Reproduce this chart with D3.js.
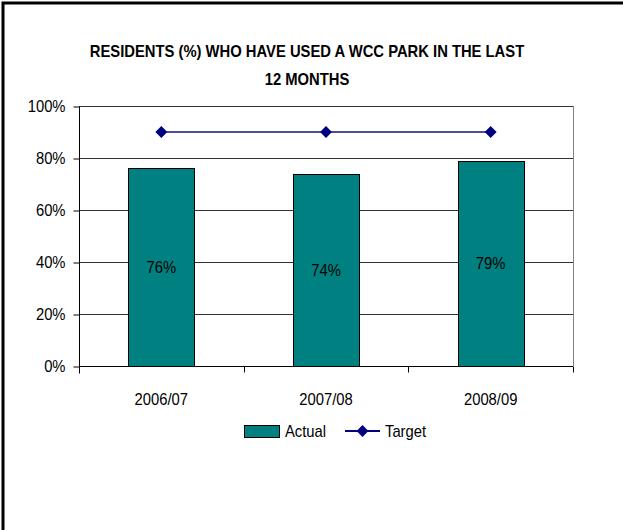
<!DOCTYPE html>
<html>
<head>
<meta charset="utf-8">
<script src="https://cdn.jsdelivr.net/npm/d3@7"></script>
<style>
  html, body { margin: 0; padding: 0; background: #fff; }
  svg { display: block; }
  text { font-family: "Liberation Sans", Arial, sans-serif; fill: #000; }
</style>
</head>
<body>
<svg id="chart" width="623" height="530"></svg>
<script>
// Survey results by year
const years = ["2006/07", "2007/08", "2008/09"];
const actual = [76, 74, 79];
const target = [90, 90, 90];
const yTicks = [0, 20, 40, 60, 80, 100];
const titleLines = ["RESIDENTS (%) WHO HAVE USED A WCC PARK IN THE LAST", "12 MONTHS"];
const legendLabels = ["Actual", "Target"];

const svg = d3.select("#chart");
const W = 623, H = 530;
const plot = { left: 79, right: 573, top: 106, bottom: 366 };
const NARROW = 0.87;   // horizontal squeeze for a condensed look
const FS = 17;

const barColor = "#008080";
const lineColor = "#4d4d9f";
const markerColor = "#000080";

// condensed text helper: x is given in screen units
function narrowText(sel, xPos) {
  return sel.attr("transform", `scale(${NARROW},1)`)
    .attr("x", typeof xPos === "function" ? (d, i) => xPos(d, i) / NARROW : xPos / NARROW);
}

// outer frame (left and top edges)
svg.append("path")
  .attr("d", `M3,${H} V3 H${W}`)
  .attr("fill", "none").attr("stroke", "#000").attr("stroke-width", 3);

// title
svg.append("g").selectAll("text").data(titleLines).join("text")
  .attr("y", (d, i) => 57 + i * 28)
  .attr("text-anchor", "middle")
  .attr("font-size", FS).attr("font-weight", "bold")
  .call(narrowText, 307)
  .text(d => d);

const x = d3.scaleBand().domain(years).range([plot.left, plot.right]).paddingInner(0).paddingOuter(0);
const y = d3.scaleLinear().domain([0, 100]).range([plot.bottom, plot.top]);
const barW = x.bandwidth() * 0.4;
const cx = d => x(d) + x.bandwidth() / 2;

// horizontal gridlines
svg.append("g").selectAll("line").data(yTicks.filter(d => d > 0)).join("line")
  .attr("x1", plot.left).attr("x2", plot.right)
  .attr("y1", d => Math.round(y(d)) + 0.5).attr("y2", d => Math.round(y(d)) + 0.5)
  .attr("stroke", "#333").attr("stroke-width", 1);

// right edge of plot area
svg.append("line")
  .attr("x1", plot.right + 0.5).attr("x2", plot.right + 0.5)
  .attr("y1", plot.top).attr("y2", plot.bottom)
  .attr("stroke", "#808080");

// y axis
const yAxis = d3.axisLeft(y).tickValues(yTicks).tickFormat(d => d + "%").tickSize(6).tickPadding(8);
const gy = svg.append("g").attr("transform", `translate(${plot.left + 0.5},0.5)`).call(yAxis);
gy.select(".domain").attr("stroke", "#000").attr("d", `M0,${plot.top} V${plot.bottom + 7}`);
gy.selectAll(".tick line").attr("stroke", "#000");
gy.selectAll(".tick text")
  .attr("font-size", FS).attr("fill", "#000")
  .attr("font-family", "Liberation Sans, Arial, sans-serif")
  .call(narrowText, -14);

// bars
svg.append("g").selectAll("rect").data(years).join("rect")
  .attr("x", d => Math.round(x(d) + (x.bandwidth() - barW) / 2) + 0.5)
  .attr("y", (d, i) => Math.round(y(actual[i])) + 0.5)
  .attr("width", Math.round(barW))
  .attr("height", (d, i) => Math.round(y(0)) - Math.round(y(actual[i])))
  .attr("fill", barColor).attr("stroke", "#000").attr("stroke-width", 1);

// x axis with ticks between categories
const gx = svg.append("g").attr("transform", `translate(0,${plot.bottom + 0.5})`);
gx.append("line").attr("x1", plot.left).attr("x2", plot.right).attr("stroke", "#000");
const boundaries = years.map(d => x(d)).concat([plot.right]);
gx.selectAll("line.tk").data(boundaries).join("line").attr("class", "tk")
  .attr("x1", d => Math.round(d) + 0.5).attr("x2", d => Math.round(d) + 0.5)
  .attr("y1", 0).attr("y2", 6).attr("stroke", "#000");
gx.selectAll("text").data(years).join("text")
  .attr("y", 39)
  .attr("text-anchor", "middle").attr("font-size", FS)
  .call(narrowText, cx)
  .text(d => d);

// value labels inside bars
svg.append("g").selectAll("text").data(years).join("text")
  .attr("y", (d, i) => (y(actual[i]) + y(0)) / 2 + 6)
  .attr("text-anchor", "middle").attr("font-size", FS)
  .call(narrowText, cx)
  .text((d, i) => actual[i] + "%");

// target line with diamond markers
const line = d3.line().x((d, i) => cx(years[i])).y(d => y(d));
svg.append("path").datum(target)
  .attr("d", line).attr("fill", "none")
  .attr("stroke", lineColor).attr("stroke-width", 2);
const diamond = d3.symbol().type(d3.symbolDiamond2).size(90);
svg.append("g").selectAll("path").data(target).join("path")
  .attr("transform", (d, i) => `translate(${cx(years[i])},${y(d)})`)
  .attr("d", diamond)
  .attr("fill", markerColor);

// legend
const lg = svg.append("g");
lg.append("rect").attr("x", 244.5).attr("y", 425.5).attr("width", 35).attr("height", 12)
  .attr("fill", barColor).attr("stroke", "#000");
lg.append("text").attr("y", 437).attr("font-size", FS).call(narrowText, 285).text(legendLabels[0]);
lg.append("line").attr("x1", 345).attr("x2", 380).attr("y1", 431).attr("y2", 431)
  .attr("stroke", markerColor).attr("stroke-width", 2);
lg.append("path").attr("transform", "translate(362.5,431)").attr("d", diamond).attr("fill", markerColor);
lg.append("text").attr("y", 437).attr("font-size", FS).call(narrowText, 385).text(legendLabels[1]);
</script>
</body>
</html>
